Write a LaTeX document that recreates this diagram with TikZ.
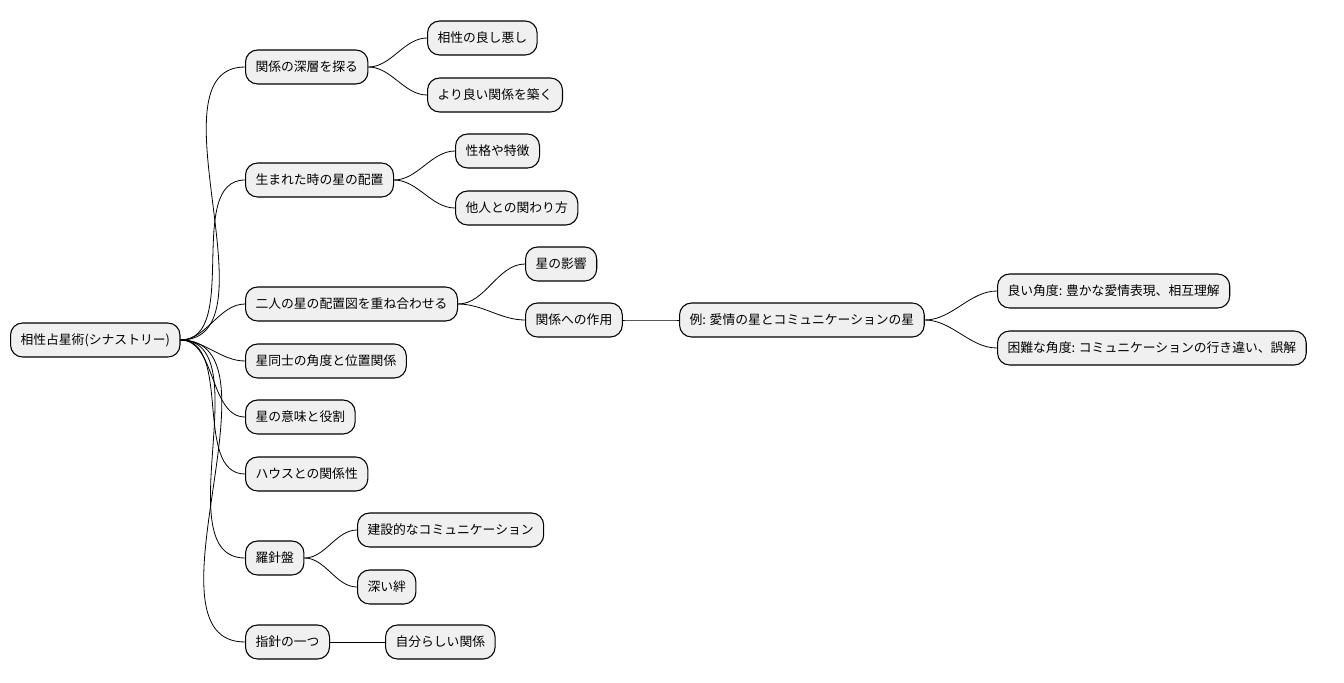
\documentclass[tikz,border=0pt]{standalone}
\usepackage{fontspec}
\setmainfont{Noto Sans CJK JP}
\usetikzlibrary{positioning}

\begin{document}
\begin{tikzpicture}[x=0.75pt,y=-0.75pt,
        topic/.style={draw,rounded corners=9pt,fill=black!6,line width=0.8pt,
          anchor=west,minimum height=25.5pt,inner xsep=7.5pt,font=\fontsize{9.6}{11}\selectfont},
        link/.style={draw,line width=0.6pt,out=0,in=180,looseness=0.9}]
  \useasboundingbox (0,0) rectangle (1344,682);

  \node[topic] (root) at (10,340) {相性占星術(シナストリー)};

  \node[topic] (deep) at (245,67) {関係の深層を探る};
  \node[topic] (birth) at (245,180) {生まれた時の星の配置};
  \node[topic] (overlay) at (245,304) {二人の星の配置図を重ね合わせる};
  \node[topic] (angle) at (245,361) {星同士の角度と位置関係};
  \node[topic] (meaning) at (245,417) {星の意味と役割};
  \node[topic] (house) at (245,474) {ハウスとの関係性};
  \node[topic] (compass) at (245,558) {羅針盤};
  \node[topic] (guide) at (245,642) {指針の一つ};

  \node[topic] (goodbad) at (427,38) {相性の良し悪し};
  \node[topic] (better) at (427,95) {より良い関係を築く};
  \node[topic] (trait) at (455,151) {性格や特徴};
  \node[topic] (others) at (455,208) {他人との関わり方};
  \node[topic] (effect) at (525,264) {星の影響};
  \node[topic] (act) at (525,320) {関係への作用};
  \node[topic] (comm) at (357,530) {建設的なコミュニケーション};
  \node[topic] (bond) at (357,587) {深い絆};
  \node[topic] (self) at (385,642) {自分らしい関係};

  \node[topic] (example) at (679,320) {例: 愛情の星とコミュニケーションの星};
  \node[topic] (good) at (997,291) {良い角度: 豊かな愛情表現、相互理解};
  \node[topic] (hard) at (997,348) {困難な角度: コミュニケーションの行き違い、誤解};

  \foreach \c in {deep,birth,overlay,angle,meaning,house,compass,guide}
    \draw[link] (root.east) to (\c.west);
  \foreach \p/\c in {deep/goodbad,deep/better,birth/trait,birth/others,
      overlay/effect,overlay/act,act/example,example/good,example/hard,
      compass/comm,compass/bond,guide/self}
    \draw[link] (\p.east) to (\c.west);
\end{tikzpicture}
\end{document}
